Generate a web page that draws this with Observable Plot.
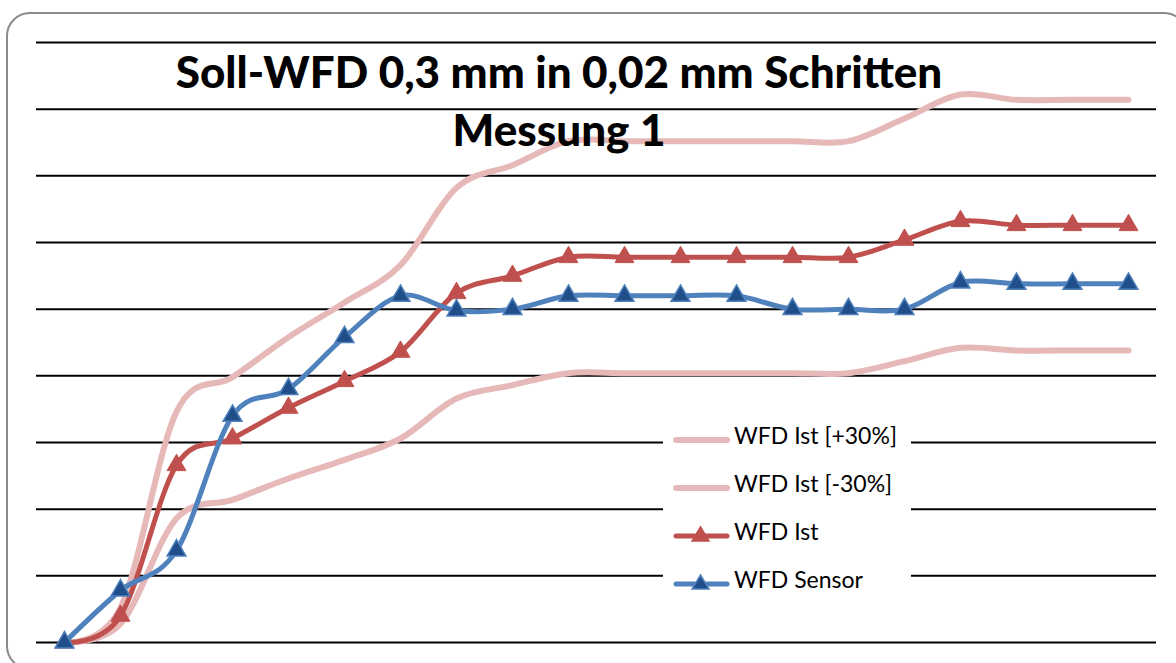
<!DOCTYPE html>
<html>
<head>
<meta charset="utf-8">
<script src="https://cdn.jsdelivr.net/npm/d3@7"></script>
<script src="https://cdn.jsdelivr.net/npm/@observablehq/plot@0.6"></script>
<style>
  html, body { margin: 0; padding: 0; background: #fff; }
  body { width: 1176px; height: 663px; overflow: hidden; position: relative; font-family: Lato, "Open Sans", sans-serif; }
  #frame { position: absolute; left: 6px; top: 12px; width: 1182px; height: 658px; border: 2px solid #8a8a8a; border-radius: 24px; box-sizing: border-box; }
  #chart { position: absolute; left: 0; top: 0; }
  #title { position: absolute; left: 0; width: 1118px; top: 0; text-align: center; font-weight: 900; font-size: 44px; color: #000; line-height: 58px; pointer-events: none; }
  #title div:first-child { margin-top: 42px; }
  #legend { position: absolute; left: 663px; top: 411px; width: 248px; height: 190px; background: #fff; }
  .row { position: absolute; left: 0; height: 48px; display: flex; align-items: center; font-size: 23px; color: #000; }
  .row svg { margin-left: 10px; margin-right: 4px; }
</style>
</head>
<body>
<div id="frame"></div>
<div id="chart"></div>
<div id="title"><div>Soll-WFD 0,3 mm in 0,02 mm Schritten</div><div>Messung 1</div></div>
<div id="legend"></div>
<script>
// Messschritte (0,02 mm je Schritt)
const schritte = [1, 2, 3, 4, 5, 6, 7, 8, 9, 10, 11, 12, 13, 14, 15, 16, 17, 18, 19, 20];

// Gemessene Werte in mm
const wfdIst    = [0, 0.020, 0.133, 0.153, 0.176, 0.196, 0.218, 0.262, 0.275, 0.289, 0.289, 0.289, 0.289, 0.289, 0.289, 0.302, 0.316, 0.313, 0.313, 0.313];
const wfdSensor = [0, 0.039, 0.069, 0.170, 0.190, 0.229, 0.260, 0.249, 0.250, 0.260, 0.260, 0.260, 0.260, 0.250, 0.250, 0.250, 0.270, 0.269, 0.269, 0.269];
const wfdPlus30 = [0, 0.026, 0.173, 0.199, 0.229, 0.255, 0.283, 0.341, 0.358, 0.376, 0.376, 0.376, 0.376, 0.376, 0.376, 0.393, 0.411, 0.407, 0.407, 0.407];
const wfdMinus30 = [0, 0.014, 0.093, 0.107, 0.123, 0.137, 0.153, 0.183, 0.193, 0.202, 0.202, 0.202, 0.202, 0.202, 0.202, 0.211, 0.221, 0.219, 0.219, 0.219];

// Gitterlinien (mm)
const gitter = [0, 0.05, 0.10, 0.15, 0.20, 0.25, 0.30, 0.35, 0.40, 0.45];

const serienNamen = ["WFD Ist [+30%]", "WFD Ist [-30%]", "WFD Ist", "WFD Sensor"];
const serienFarben = ["#e6b9b8", "#e6b9b8", "#c0504d", "#4f81bd"];
const markerFuellung = [null, null, "#c0504d", "#1f4e8a"];

const rows = (werte) => schritte.map((s, i) => ({schritt: s, wert: werte[i]}));
const plus = rows(wfdPlus30), minus = rows(wfdMinus30), ist = rows(wfdIst), sensor = rows(wfdSensor);

const lineOpts = {x: "schritt", y: "wert", curve: "cardinal", strokeLinecap: "round", strokeLinejoin: "round"};

const chart = Plot.plot({
  width: 1176,
  height: 663,
  marginLeft: 64,
  marginRight: 48,
  marginTop: 42,
  marginBottom: 21,
  x: {domain: [1, 20], axis: null},
  y: {domain: [0, 0.45], axis: null},
  marks: [
    Plot.ruleY(gitter, {x1: 0.5, x2: 20.5, stroke: "#000", strokeWidth: 2}),
    Plot.line(plus, {...lineOpts, stroke: serienFarben[0], strokeWidth: 6}),
    Plot.line(minus, {...lineOpts, stroke: serienFarben[1], strokeWidth: 6}),
    Plot.line(ist, {...lineOpts, stroke: serienFarben[2], strokeWidth: 5}),
    Plot.dot(ist, {x: "schritt", y: "wert", symbol: "triangle", r: 7, fill: markerFuellung[2], stroke: "#c0504d", strokeWidth: 1}),
    Plot.line(sensor, {...lineOpts, stroke: serienFarben[3], strokeWidth: 5}),
    Plot.dot(sensor, {x: "schritt", y: "wert", symbol: "triangle", r: 7, fill: markerFuellung[3], stroke: "#4f81bd", strokeWidth: 1.5})
  ]
});
document.getElementById("chart").appendChild(chart);

// Legende
const legend = document.getElementById("legend");
serienNamen.forEach((name, i) => {
  const row = document.createElement("div");
  row.className = "row";
  row.style.top = (i * 48) + "px";
  const fill = markerFuellung[i];
  const marker = fill
    ? `<path d="M27.5,12 L36,26 L19,26 Z" fill="${fill}" stroke="${serienFarben[i]}" stroke-width="1.5"/>`
    : "";
  row.innerHTML = `<svg width="57" height="32" viewBox="0 0 57 32"><line x1="3" y1="21" x2="54" y2="21" stroke="${serienFarben[i]}" stroke-width="${fill ? 5 : 6}" stroke-linecap="round"/>${marker}</svg><span>${name}</span>`;
  legend.appendChild(row);
});
</script>
</body>
</html>
